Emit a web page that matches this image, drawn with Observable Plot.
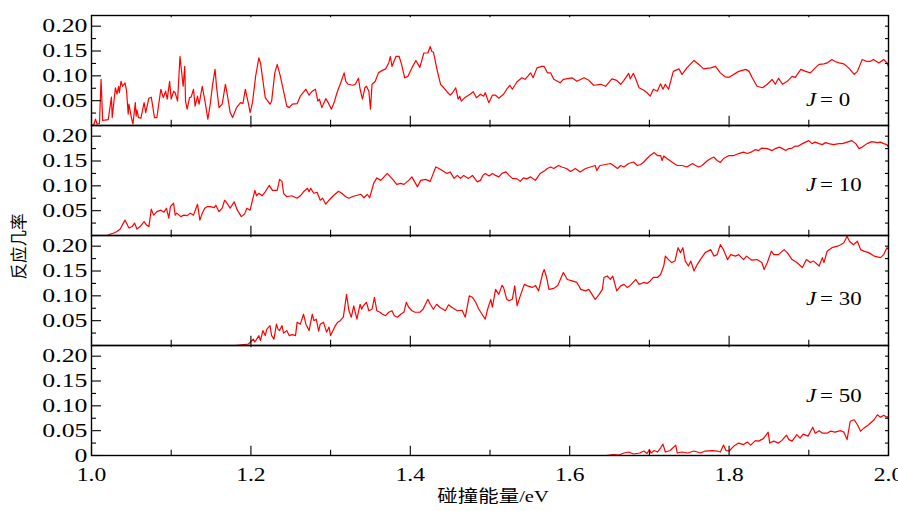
<!DOCTYPE html>
<html>
<head>
<meta charset="utf-8">
<script src="https://cdn.jsdelivr.net/npm/d3@7"></script>
<script src="https://cdn.jsdelivr.net/npm/@observablehq/plot@0.6"></script>
<style>
  html, body { margin: 0; padding: 0; background: white; }
  #chart { width: 898px; height: 511px; }
</style>
</head>
<body>
<div id="chart"></div>
<script>
// ---- data (collision energy in eV, reaction probability) ----
const panels = ["0", "10", "30", "50"];
const panelLabels = ["= 0", "= 10", "= 30", "= 50"];
const xMajorTicks = [1.0, 1.2, 1.4, 1.6, 1.8, 2.0];
const xMinorTicks = [1.1, 1.3, 1.5, 1.7, 1.9];
const yLabelTicks = [0.05, 0.10, 0.15, 0.20];
const yMajorTicks = [0, 0.05, 0.10, 0.15, 0.20];
const yMinorTicks = [0.025, 0.075, 0.125, 0.175];

const seriesJ0 = [
[1.000,0.000],[1.003,0.002],[1.005,0.013],[1.007,0.003],[1.010,0.004],[1.012,0.093],[1.014,0.010],[1.017,0.011],
[1.021,0.012],[1.025,0.057],[1.026,0.016],[1.030,0.076],[1.032,0.063],[1.034,0.079],[1.035,0.066],[1.037,0.089],
[1.039,0.079],[1.042,0.086],[1.044,0.070],[1.046,0.023],[1.047,0.043],[1.050,0.016],[1.052,0.003],[1.055,0.046],
[1.056,0.019],[1.057,0.031],[1.059,0.016],[1.062,0.015],[1.066,0.046],[1.068,0.026],[1.072,0.055],[1.075,0.057],
[1.079,0.016],[1.082,0.016],[1.087,0.073],[1.090,0.056],[1.093,0.069],[1.095,0.053],[1.098,0.089],[1.100,0.053],
[1.103,0.069],[1.105,0.066],[1.108,0.049],[1.111,0.139],[1.115,0.079],[1.117,0.119],[1.118,0.049],[1.120,0.033],
[1.123,0.056],[1.125,0.057],[1.128,0.073],[1.130,0.039],[1.133,0.059],[1.135,0.043],[1.139,0.079],[1.143,0.043],
[1.146,0.013],[1.149,0.043],[1.152,0.083],[1.155,0.113],[1.157,0.076],[1.160,0.036],[1.164,0.043],[1.168,0.083],
[1.170,0.066],[1.174,0.026],[1.177,0.016],[1.182,0.036],[1.187,0.046],[1.190,0.044],[1.193,0.073],[1.197,0.043],
[1.199,0.026],[1.202,0.046],[1.206,0.100],[1.210,0.136],[1.212,0.126],[1.214,0.103],[1.218,0.056],[1.224,0.043],
[1.226,0.049],[1.230,0.106],[1.233,0.123],[1.237,0.099],[1.241,0.069],[1.245,0.039],[1.248,0.036],[1.252,0.043],
[1.258,0.044],[1.262,0.059],[1.269,0.073],[1.273,0.061],[1.277,0.069],[1.281,0.073],[1.284,0.049],[1.286,0.053],
[1.289,0.036],[1.294,0.054],[1.297,0.046],[1.301,0.033],[1.305,0.049],[1.308,0.066],[1.312,0.083],[1.317,0.106],
[1.319,0.089],[1.322,0.083],[1.328,0.081],[1.331,0.083],[1.335,0.095],[1.337,0.073],[1.340,0.053],[1.343,0.076],
[1.345,0.079],[1.348,0.069],[1.350,0.033],[1.352,0.083],[1.356,0.089],[1.360,0.106],[1.365,0.111],[1.369,0.114],
[1.373,0.126],[1.375,0.139],[1.377,0.119],[1.382,0.139],[1.386,0.139],[1.389,0.123],[1.393,0.096],[1.397,0.099],
[1.402,0.116],[1.407,0.131],[1.412,0.117],[1.417,0.146],[1.422,0.146],[1.425,0.159],[1.427,0.149],[1.429,0.148],
[1.434,0.109],[1.438,0.083],[1.442,0.076],[1.446,0.068],[1.450,0.061],[1.453,0.066],[1.457,0.076],[1.460,0.053],
[1.462,0.059],[1.464,0.049],[1.469,0.057],[1.475,0.063],[1.479,0.068],[1.483,0.056],[1.488,0.063],[1.492,0.059],
[1.494,0.066],[1.4985,0.046],[1.503,0.061],[1.507,0.061],[1.511,0.055],[1.517,0.063],[1.521,0.073],[1.525,0.081],
[1.528,0.073],[1.534,0.088],[1.540,0.096],[1.544,0.093],[1.551,0.106],[1.554,0.096],[1.559,0.116],[1.565,0.119],
[1.568,0.119],[1.572,0.106],[1.576,0.106],[1.580,0.093],[1.588,0.086],[1.592,0.093],[1.599,0.095],[1.603,0.096],
[1.609,0.089],[1.618,0.096],[1.624,0.091],[1.630,0.081],[1.639,0.083],[1.645,0.079],[1.653,0.094],[1.659,0.091],
[1.664,0.083],[1.668,0.091],[1.674,0.105],[1.676,0.094],[1.680,0.105],[1.683,0.093],[1.687,0.076],[1.693,0.071],
[1.697,0.066],[1.701,0.059],[1.705,0.073],[1.710,0.069],[1.714,0.084],[1.717,0.073],[1.720,0.083],[1.724,0.073],
[1.730,0.109],[1.737,0.114],[1.741,0.103],[1.747,0.116],[1.756,0.131],[1.762,0.123],[1.768,0.114],[1.777,0.116],
[1.783,0.119],[1.789,0.106],[1.795,0.098],[1.800,0.097],[1.812,0.109],[1.821,0.113],[1.825,0.109],[1.829,0.096],
[1.835,0.079],[1.842,0.076],[1.848,0.083],[1.854,0.093],[1.858,0.083],[1.862,0.095],[1.867,0.083],[1.873,0.089],
[1.879,0.099],[1.883,0.097],[1.890,0.113],[1.896,0.109],[1.902,0.106],[1.908,0.116],[1.913,0.123],[1.919,0.124],
[1.923,0.126],[1.929,0.133],[1.933,0.129],[1.938,0.126],[1.944,0.124],[1.950,0.116],[1.957,0.103],[1.961,0.109],
[1.967,0.133],[1.973,0.129],[1.977,0.129],[1.981,0.133],[1.988,0.126],[1.994,0.133],[1.998,0.126],[2.000,0.119]
];

const seriesJ10 = [
[1.000,0.000],[1.020,0.000],[1.024,0.003],[1.028,0.005],[1.032,0.008],[1.036,0.013],[1.041,0.028],[1.042,0.031],
[1.047,0.015],[1.051,0.018],[1.054,0.025],[1.057,0.013],[1.061,0.018],[1.066,0.028],[1.069,0.021],[1.072,0.018],
[1.075,0.053],[1.078,0.041],[1.082,0.048],[1.087,0.051],[1.091,0.047],[1.094,0.055],[1.097,0.035],[1.099,0.058],
[1.103,0.065],[1.105,0.041],[1.107,0.045],[1.112,0.038],[1.116,0.041],[1.120,0.040],[1.124,0.045],[1.128,0.041],
[1.133,0.063],[1.136,0.031],[1.139,0.045],[1.142,0.055],[1.145,0.058],[1.149,0.058],[1.154,0.056],[1.156,0.061],
[1.160,0.048],[1.164,0.055],[1.167,0.071],[1.170,0.065],[1.174,0.055],[1.179,0.068],[1.183,0.051],[1.188,0.038],
[1.192,0.043],[1.195,0.055],[1.199,0.051],[1.203,0.078],[1.205,0.091],[1.207,0.080],[1.210,0.085],[1.214,0.080],
[1.218,0.088],[1.223,0.101],[1.227,0.091],[1.233,0.091],[1.236,0.113],[1.239,0.109],[1.241,0.085],[1.245,0.078],
[1.251,0.080],[1.258,0.075],[1.262,0.080],[1.266,0.088],[1.271,0.095],[1.273,0.088],[1.275,0.095],[1.279,0.085],
[1.283,0.087],[1.287,0.071],[1.290,0.075],[1.294,0.063],[1.298,0.071],[1.304,0.081],[1.310,0.089],[1.314,0.085],
[1.319,0.078],[1.323,0.075],[1.327,0.078],[1.331,0.080],[1.338,0.083],[1.342,0.076],[1.346,0.083],[1.349,0.076],
[1.354,0.105],[1.358,0.116],[1.363,0.111],[1.367,0.118],[1.371,0.125],[1.375,0.118],[1.379,0.111],[1.383,0.103],
[1.388,0.105],[1.392,0.103],[1.398,0.111],[1.402,0.118],[1.409,0.098],[1.413,0.111],[1.419,0.113],[1.425,0.109],
[1.432,0.138],[1.436,0.135],[1.440,0.131],[1.446,0.125],[1.450,0.128],[1.455,0.115],[1.459,0.121],[1.463,0.115],
[1.467,0.121],[1.473,0.115],[1.478,0.121],[1.484,0.108],[1.488,0.111],[1.491,0.121],[1.494,0.125],[1.499,0.120],
[1.503,0.125],[1.507,0.121],[1.511,0.118],[1.515,0.125],[1.520,0.128],[1.524,0.121],[1.528,0.115],[1.534,0.114],
[1.538,0.109],[1.542,0.116],[1.546,0.114],[1.551,0.118],[1.557,0.111],[1.563,0.125],[1.569,0.131],[1.572,0.135],
[1.576,0.138],[1.580,0.135],[1.586,0.141],[1.590,0.138],[1.596,0.135],[1.601,0.129],[1.607,0.135],[1.613,0.128],
[1.620,0.135],[1.626,0.138],[1.632,0.141],[1.634,0.131],[1.638,0.141],[1.645,0.143],[1.651,0.145],[1.655,0.141],
[1.660,0.135],[1.664,0.141],[1.668,0.138],[1.674,0.145],[1.680,0.148],[1.685,0.141],[1.689,0.143],[1.693,0.148],
[1.697,0.155],[1.701,0.161],[1.706,0.167],[1.710,0.161],[1.714,0.161],[1.716,0.151],[1.718,0.160],[1.722,0.155],
[1.729,0.147],[1.735,0.141],[1.741,0.141],[1.747,0.138],[1.754,0.145],[1.758,0.141],[1.762,0.138],[1.766,0.141],
[1.773,0.151],[1.777,0.155],[1.781,0.158],[1.785,0.151],[1.789,0.147],[1.793,0.155],[1.800,0.161],[1.806,0.161],
[1.812,0.165],[1.818,0.168],[1.823,0.165],[1.829,0.169],[1.833,0.173],[1.837,0.171],[1.841,0.176],[1.848,0.175],
[1.854,0.171],[1.858,0.175],[1.863,0.178],[1.867,0.175],[1.871,0.171],[1.875,0.175],[1.879,0.176],[1.883,0.180],
[1.887,0.180],[1.892,0.185],[1.896,0.188],[1.900,0.191],[1.904,0.185],[1.908,0.188],[1.913,0.185],[1.917,0.183],
[1.921,0.187],[1.925,0.185],[1.931,0.183],[1.938,0.185],[1.942,0.185],[1.948,0.188],[1.954,0.191],[1.959,0.185],
[1.963,0.175],[1.967,0.178],[1.973,0.185],[1.979,0.189],[1.986,0.187],[1.990,0.188],[1.994,0.185],[1.998,0.183],
[2.000,0.178]
];

const seriesJ30 = [
[1.000,0.000],[1.180,0.000],[1.186,0.001],[1.192,0.002],[1.197,0.003],[1.200,0.008],[1.203,0.013],[1.205,0.007],
[1.210,0.020],[1.212,0.010],[1.215,0.030],[1.218,0.020],[1.220,0.033],[1.224,0.040],[1.226,0.020],[1.229,0.013],
[1.232,0.043],[1.234,0.033],[1.236,0.030],[1.239,0.040],[1.241,0.025],[1.245,0.030],[1.248,0.020],[1.252,0.022],
[1.256,0.020],[1.258,0.047],[1.262,0.043],[1.266,0.063],[1.269,0.043],[1.273,0.030],[1.277,0.063],[1.279,0.050],
[1.282,0.053],[1.285,0.029],[1.287,0.043],[1.291,0.047],[1.295,0.027],[1.298,0.037],[1.300,0.020],[1.303,0.030],
[1.306,0.040],[1.309,0.047],[1.312,0.050],[1.316,0.057],[1.320,0.103],[1.323,0.070],[1.326,0.057],[1.329,0.080],
[1.333,0.053],[1.337,0.083],[1.339,0.073],[1.341,0.080],[1.345,0.087],[1.348,0.070],[1.352,0.073],[1.355,0.097],
[1.358,0.070],[1.362,0.067],[1.365,0.063],[1.369,0.060],[1.373,0.067],[1.377,0.070],[1.380,0.060],[1.384,0.057],
[1.388,0.063],[1.392,0.067],[1.395,0.087],[1.398,0.077],[1.402,0.070],[1.406,0.067],[1.412,0.067],[1.416,0.073],
[1.422,0.093],[1.425,0.083],[1.429,0.073],[1.433,0.083],[1.437,0.077],[1.444,0.070],[1.448,0.082],[1.452,0.077],
[1.459,0.070],[1.465,0.071],[1.469,0.057],[1.474,0.100],[1.478,0.097],[1.482,0.087],[1.486,0.073],[1.490,0.063],
[1.494,0.053],[1.497,0.073],[1.501,0.093],[1.503,0.077],[1.507,0.113],[1.511,0.103],[1.515,0.121],[1.517,0.117],
[1.521,0.093],[1.524,0.090],[1.528,0.093],[1.531,0.120],[1.534,0.080],[1.538,0.100],[1.543,0.123],[1.547,0.120],
[1.553,0.117],[1.557,0.121],[1.561,0.110],[1.566,0.145],[1.568,0.153],[1.571,0.137],[1.574,0.113],[1.580,0.115],
[1.585,0.121],[1.592,0.147],[1.597,0.133],[1.603,0.130],[1.609,0.127],[1.614,0.113],[1.620,0.110],[1.624,0.113],
[1.628,0.103],[1.632,0.093],[1.637,0.103],[1.641,0.113],[1.643,0.137],[1.647,0.140],[1.651,0.133],[1.654,0.140],
[1.659,0.110],[1.664,0.120],[1.668,0.123],[1.672,0.117],[1.676,0.121],[1.683,0.133],[1.687,0.123],[1.693,0.127],
[1.697,0.125],[1.701,0.130],[1.705,0.137],[1.710,0.137],[1.714,0.143],[1.718,0.160],[1.720,0.180],[1.724,0.173],
[1.728,0.167],[1.732,0.170],[1.736,0.197],[1.739,0.187],[1.742,0.197],[1.745,0.170],[1.749,0.160],[1.752,0.170],
[1.756,0.150],[1.760,0.163],[1.764,0.173],[1.770,0.187],[1.777,0.193],[1.781,0.180],[1.785,0.183],[1.789,0.203],
[1.793,0.193],[1.798,0.173],[1.802,0.183],[1.808,0.180],[1.812,0.183],[1.818,0.173],[1.822,0.180],[1.828,0.172],
[1.835,0.173],[1.841,0.167],[1.844,0.153],[1.848,0.167],[1.853,0.190],[1.856,0.183],[1.862,0.183],[1.869,0.193],
[1.873,0.187],[1.879,0.173],[1.885,0.167],[1.892,0.157],[1.897,0.173],[1.902,0.167],[1.906,0.170],[1.913,0.160],
[1.917,0.177],[1.919,0.167],[1.923,0.190],[1.929,0.197],[1.936,0.200],[1.940,0.203],[1.944,0.207],[1.948,0.220],
[1.951,0.210],[1.956,0.203],[1.961,0.210],[1.965,0.193],[1.969,0.190],[1.975,0.187],[1.982,0.180],[1.990,0.177],
[1.994,0.183],[1.998,0.197],[2.000,0.193]
];

const seriesJ50 = [
[1.000,0.000],[1.645,0.000],[1.655,0.002],[1.662,0.001],[1.668,0.005],[1.674,0.007],[1.680,0.003],[1.688,0.005],
[1.693,0.009],[1.697,0.004],[1.700,0.012],[1.702,0.005],[1.706,0.010],[1.710,0.007],[1.714,0.015],[1.717,0.023],
[1.720,0.007],[1.726,0.010],[1.733,0.021],[1.735,0.005],[1.741,0.007],[1.748,0.005],[1.756,0.009],[1.764,0.005],
[1.770,0.009],[1.779,0.010],[1.785,0.009],[1.789,0.007],[1.793,0.021],[1.796,0.010],[1.800,0.009],[1.806,0.019],
[1.812,0.025],[1.818,0.022],[1.823,0.027],[1.827,0.021],[1.833,0.030],[1.837,0.029],[1.843,0.034],[1.849,0.047],
[1.851,0.025],[1.856,0.029],[1.862,0.025],[1.866,0.030],[1.872,0.041],[1.875,0.032],[1.879,0.029],[1.885,0.042],
[1.889,0.035],[1.893,0.043],[1.899,0.039],[1.905,0.057],[1.908,0.045],[1.913,0.050],[1.917,0.045],[1.923,0.045],
[1.927,0.049],[1.933,0.047],[1.940,0.050],[1.944,0.047],[1.948,0.032],[1.952,0.069],[1.957,0.072],[1.961,0.062],
[1.965,0.049],[1.969,0.055],[1.975,0.062],[1.982,0.072],[1.986,0.082],[1.990,0.077],[1.994,0.081],[1.998,0.077],
[2.000,0.079]
];

// ---- layout (not data) ----
const W = 898, H = 511, mL = 91, mR = 10, mT = 13, mB = 55;
const frameW = W - mL - mR;
const facetH = (H - mT - mB) / panels.length;
const labelX = 1.8965;
const labelYs = [0.052, 0.102, 0.093, 0.12];

const allSeries = [seriesJ0, seriesJ10, seriesJ30, seriesJ50];
const rows = allSeries.flatMap((s, i) => s.map(([E, P]) => ({J: panels[i], E, P})));
const labelRows = panels.map((J, i) => ({J, text: panelLabels[i], ly: labelYs[i]}));
const xAllTicks = [...xMajorTicks, ...xMinorTicks];
const yAllTicks = [...yMajorTicks, ...yMinorTicks];

const serif = "'Liberation Serif', 'DejaVu Serif', serif";
const cjk = "'Liberation Serif', 'Noto Sans CJK SC', sans-serif";

// inward ticks, drawn as short tick marks inset from the facet frame
const tickBottom = (t, L) => Plot.tickX(t, {x: d => d, insetTop: facetH - L, stroke: "black", strokeWidth: 1.1});
const tickTop = (t, L) => Plot.tickX(t, {x: d => d, insetBottom: facetH - L, stroke: "black", strokeWidth: 1.1});
const tickLeft = (t, L) => Plot.tickY(t, {y: d => d, insetRight: frameW - L, stroke: "black", strokeWidth: 1.1});
const tickRight = (t, L) => Plot.tickY(t, {y: d => d, insetLeft: frameW - L, stroke: "black", strokeWidth: 1.1});

const chart = Plot.plot({
  width: W,
  height: H,
  marginLeft: mL,
  marginRight: mR,
  marginTop: mT,
  marginBottom: mB,
  style: {fontFamily: serif, fontSize: "19px", color: "black", background: "white", overflow: "visible"},
  x: {domain: [1, 2]},
  y: {domain: [0, 0.2215]},
  fy: {domain: panels, padding: 0, axis: null, label: null},
  marks: [
    Plot.line(rows, {x: "E", y: "P", fy: "J", stroke: "#ff0000", strokeWidth: 1.2}),
    Plot.frame({stroke: "black", strokeWidth: 1.4}),
    tickBottom(xMajorTicks, 10),
    tickBottom(xMinorTicks, 6),
    tickTop(xAllTicks, 3),
    tickLeft(yMajorTicks, 10),
    tickLeft(yMinorTicks, 5),
    tickRight(yAllTicks, 3),
    // tick labels
    Plot.axisY(yLabelTicks, {anchor: "left", tickSize: 0, tickPadding: 4, tickFormat: d3.format(".2f"), label: null, facetAnchor: null}),
    Plot.axisY([0], {anchor: "left", tickSize: 0, tickPadding: 4, tickFormat: () => "0", label: null, facetAnchor: "bottom"}),
    Plot.axisX(xMajorTicks, {anchor: "bottom", tickSize: 0, tickPadding: 12, tickFormat: d3.format(".1f"), label: null, facetAnchor: "bottom"}),
    // panel labels
    Plot.text(labelRows, {fy: "J", x: () => labelX, y: "ly", text: () => "J", fontStyle: "italic", textAnchor: "start", fontSize: 18.5}),
    Plot.text(labelRows, {fy: "J", x: () => labelX, y: "ly", text: "text", textAnchor: "start", dx: 14, fontSize: 18.5}),
    // axis titles
    Plot.text([{J: "10"}], {fy: "J", frameAnchor: "bottom-left", text: () => "反应几率", rotate: -90, textAnchor: "middle", lineAnchor: "middle", dx: -72, dy: 11, fontFamily: "'Noto Sans CJK SC', sans-serif", fontSize: 16.5}),
    Plot.text([{J: "50"}], {fy: "J", frameAnchor: "bottom", text: () => "碰撞能量/eV", textAnchor: "middle", lineAnchor: "middle", dy: 41, dx: 3, fontFamily: cjk, fontSize: 16.5})
  ]
});

// horizontally stretched lettering as in the reference
function stretchText(svg, k, kY) {
  svg.querySelectorAll("text").forEach(t => {
    const tr = t.getAttribute("transform") || "";
    if (tr.includes("rotate")) return;
    const g = t.closest("g[aria-label]");
    const isY = g && g.getAttribute("aria-label") === "y-axis tick label";
    const s = isY ? kY : k;
    const x = +(t.getAttribute("x") || 0);
    t.setAttribute("transform", `${tr} translate(${x},0) scale(${s},1) translate(${-x},0)`);
  });
}
document.getElementById("chart").appendChild(chart);
stretchText(chart, 1.24, 1.36);
</script>
</body>
</html>
